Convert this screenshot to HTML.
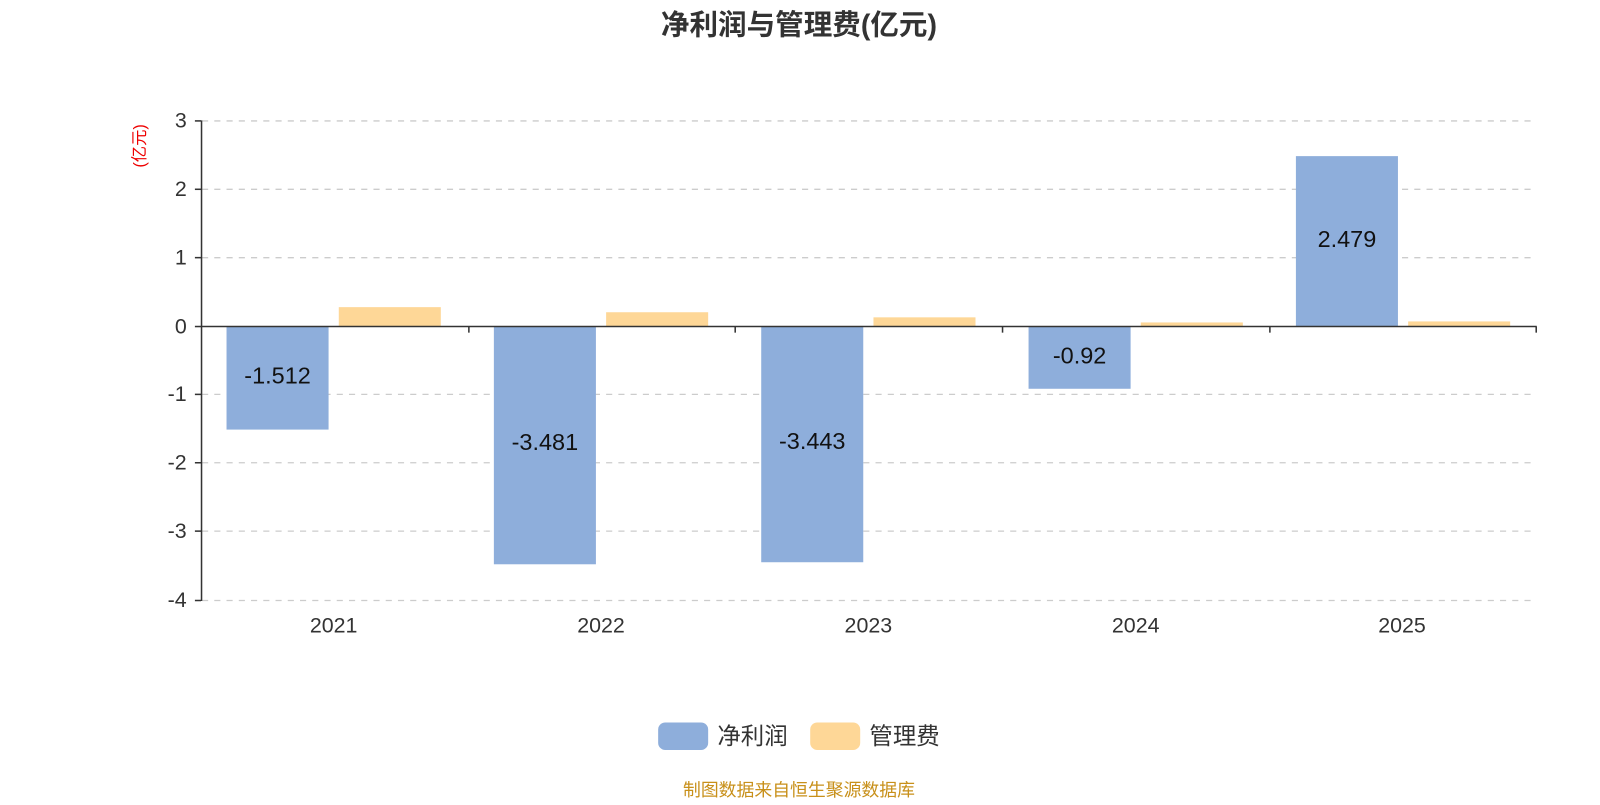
<!DOCTYPE html>
<html><head><meta charset="utf-8"><style>
html,body{margin:0;padding:0;background:#fff;}
svg text{font-family:"Liberation Sans","Noto Sans CJK SC",sans-serif;}
</style></head><body>
<svg width="1600" height="800" xmlns="http://www.w3.org/2000/svg">
<g transform="scale(1.0204)">
<text x="783" y="34" text-anchor="middle" font-size="28" font-weight="bold" fill="#333">净利润与管理费(亿元)</text>
<g stroke="#ccc" stroke-width="1.3" stroke-dasharray="6,6">
<line x1="198" y1="118.5" x2="1506" y2="118.5"/>
<line x1="198" y1="185.5" x2="1506" y2="185.5"/>
<line x1="198" y1="252.5" x2="1506" y2="252.5"/>
<line x1="198" y1="386.5" x2="1506" y2="386.5"/>
<line x1="198" y1="453.5" x2="1506" y2="453.5"/>
<line x1="198" y1="520.5" x2="1506" y2="520.5"/>
<line x1="198" y1="588.5" x2="1506" y2="588.5"/>
</g>
<g fill="#8eaedb">
<rect x="222" y="320" width="100" height="101"/>
<rect x="484" y="320" width="100" height="233"/>
<rect x="746" y="320" width="100" height="231"/>
<rect x="1008" y="320" width="100" height="61"/>
<rect x="1270" y="153" width="100" height="167"/>
</g>
<g fill="#fed797">
<rect x="332" y="301" width="100" height="19"/>
<rect x="594" y="306" width="100" height="14"/>
<rect x="856" y="311" width="100" height="9"/>
<rect x="1118" y="316" width="100" height="4"/>
<rect x="1380" y="315" width="100" height="5"/>
</g>
<g stroke="#333" stroke-width="1.5" fill="none">
<line x1="197.5" y1="118" x2="197.5" y2="589"/>
<line x1="197" y1="320" x2="1506" y2="320"/>
<line x1="191" y1="118.5" x2="197" y2="118.5"/>
<line x1="191" y1="185.5" x2="197" y2="185.5"/>
<line x1="191" y1="252.5" x2="197" y2="252.5"/>
<line x1="191" y1="320" x2="197" y2="320"/>
<line x1="191" y1="386.5" x2="197" y2="386.5"/>
<line x1="191" y1="453.5" x2="197" y2="453.5"/>
<line x1="191" y1="520.5" x2="197" y2="520.5"/>
<line x1="191" y1="588.5" x2="197" y2="588.5"/>
<line x1="459.5" y1="320" x2="459.5" y2="326"/>
<line x1="720.5" y1="320" x2="720.5" y2="326"/>
<line x1="982.5" y1="320" x2="982.5" y2="326"/>
<line x1="1244.5" y1="320" x2="1244.5" y2="326"/>
<line x1="1505.5" y1="320" x2="1505.5" y2="326"/>
</g>
<g font-size="21" fill="#333" text-anchor="end">
<text x="183" y="125">3</text><text x="183" y="192">2</text><text x="183" y="259">1</text>
<text x="183" y="327">0</text><text x="183" y="393">-1</text><text x="183" y="460">-2</text>
<text x="183" y="527">-3</text><text x="183" y="595">-4</text>
</g>
<text transform="translate(142,143) rotate(-90)" font-size="16" fill="#e00" text-anchor="middle">(亿元)</text>
<g font-size="21" fill="#333" text-anchor="middle">
<text x="327" y="620">2021</text><text x="589" y="620">2022</text><text x="851" y="620">2023</text>
<text x="1113" y="620">2024</text><text x="1374" y="620">2025</text>
</g>
<g font-size="23" fill="#111" text-anchor="middle">
<text x="272" y="376">-1.512</text><text x="534" y="441">-3.481</text><text x="796" y="440">-3.443</text>
<text x="1058" y="356">-0.92</text><text x="1320" y="242">2.479</text>
</g>
<rect x="645" y="708" width="49" height="27" rx="7" fill="#8eaedb"/>
<text x="703" y="729" font-size="23" fill="#333">净利润</text>
<rect x="794" y="708" width="49" height="27" rx="7" fill="#fed797"/>
<text x="852" y="729" font-size="23" fill="#333">管理费</text>
<text x="783" y="780" font-size="17.5" fill="#c8901a" text-anchor="middle">制图数据来自恒生聚源数据库</text>
</g>
</svg>
</body></html>
